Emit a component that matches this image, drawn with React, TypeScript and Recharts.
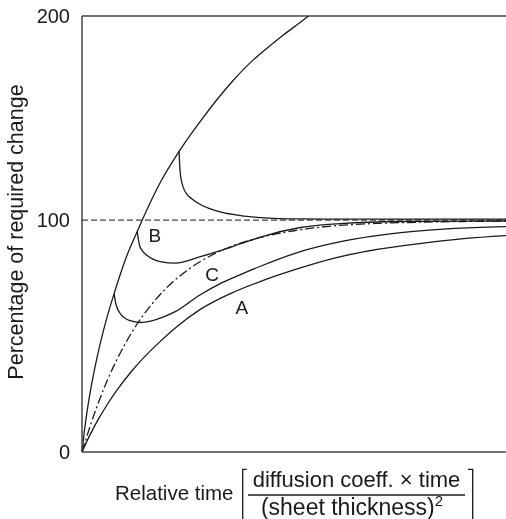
import { LineChart, Line, XAxis, YAxis, ReferenceLine, ReferenceDot } from "recharts";

type Pt = { x: number; y: number };
const pts = (rows: number[][]): Pt[] => rows.map(([x, y]) => ({ x, y }));

// plot box top, in the same units as the curves (100 = required change)
const Y_MAX = 188;
const yTicks = [0, 100, Y_MAX];
const yTickLabels = ["0", "100", "200"];

// steep curve towards double the required change
const overshootPath = pts([
	[0, 0], [0.5, 8.1], [1.2, 17.5], [2.2, 28.5], [3.4, 39.5], [4.8, 50.5],
	[6.2, 60.0], [7.57, 68.3], [10.4, 83.8], [13.0, 95.0], [14.2, 100.0],
	[18.4, 116.0], [22.9, 129.6], [28.6, 144.3], [31.9, 152.1], [35.7, 160.3],
	[39.7, 167.9], [43.7, 174.2], [47.5, 179.8], [51.5, 185.3], [53.4, 188.0],
]);

// branch leaving the steep curve late, settling from above
const lateSwitch = pts([
	[22.9, 129.6], [23.1, 121.8], [23.4, 117.5], [23.9, 114.0], [24.8, 111.0],
	[25.8, 109.3], [27.9, 106.7], [30.3, 104.8], [32.6, 103.5], [37.4, 101.9],
	[42.1, 101.1], [51.5, 100.5], [61, 100.4], [100, 100.4],
]);

// curve B
const curveB = pts([
	[13.0, 95.0], [13.64, 88.7], [14.4, 86.4], [15.37, 84.7], [18.44, 82.1],
	[21.99, 81.4], [27.9, 84.2], [32.6, 86.8], [37.4, 89.8], [42.1, 92.7],
	[51.5, 96.8], [61, 98.5], [75.2, 99.4], [100, 99.6],
]);

// curve C
const curveC = pts([
	[7.57, 68.3], [8.04, 63.5], [9.22, 59.2], [11.35, 56.6], [13.71, 55.85],
	[17.26, 57.0], [21.99, 60.5], [27.9, 67.8], [32.6, 72.6], [37.4, 76.5],
	[42.1, 80.1], [51.5, 86.4], [61, 90.7], [75.2, 94.6], [87, 96.3], [100, 97.2],
]);

// dash-dot reference approach
const dashDot = pts([
	[0, 0], [2, 11.6], [4, 21.9], [6, 31], [8, 39], [10, 46], [13, 55.2],
	[16, 62.7], [20, 70.9], [25, 78.6], [30, 84.3], [35, 88.5], [40, 91.5],
	[50, 95.4], [60, 97.6], [70, 98.6], [80, 99.1], [90, 99.4], [100, 99.6],
]);

// curve A
const curveA = pts([
	[0, 0], [2, 7.8], [4, 14.6], [6, 20.6], [8.5, 27.3], [11.6, 34.6], [14, 39.6],
	[18.4, 47.6], [22, 53.5], [27.9, 61.5], [35, 68.3], [42, 73.5], [50, 78.5],
	[60, 83.8], [70, 87.5], [80, 90], [90, 92], [100, 93.3],
]);

const curveLabels = [
	{ name: "B", x: 17.2, y: 93.3 },
	{ name: "C", x: 30.7, y: 76.5 },
	{ name: "A", x: 37.7, y: 62.6 },
];

const FONT = "'Liberation Sans', Arial, sans-serif";
const INK = "#1a1a1a";
const AXIS = "#444";

const YTitle = () => (
	<text
		x={23}
		y={232}
		transform="rotate(-90, 23, 232)"
		textAnchor="middle"
		fontSize={21.5}
		fontFamily={FONT}
		fill={INK}
	>
		Percentage of required change
	</text>
);

const XTitle = () => (
	<g fontFamily={FONT} fill={INK}>
		<text x={115} y={500} fontSize={20.5}>
			Relative time
		</text>
		<path d="M 246.7 469.3 H 242.7 V 540" stroke={INK} strokeWidth={1.3} fill="none" />
		<text x={356.5} y={487} textAnchor="middle" fontSize={22}>
			diffusion coeff. × time
		</text>
		<line x1={248} x2={465} y1={495} y2={495} stroke={INK} strokeWidth={1.3} />
		<text x={352} y={515} textAnchor="middle" fontSize={23}>
			(sheet thickness)
			<tspan fontSize={15} dy={-9}>
				2
			</tspan>
		</text>
		<path d="M 468 469.3 H 472.7 V 540" stroke={INK} strokeWidth={1.3} fill="none" />
	</g>
);

const curveProps = {
	type: "monotone" as const,
	dataKey: "y",
	stroke: INK,
	strokeWidth: 1.3,
	dot: false,
	activeDot: false,
	isAnimationActive: false,
};

export default function App() {
	// pinned to the viewport corner so the page never grows scrollbars
	return (
		<div style={{ position: "fixed", left: 0, top: 0, width: 506, height: 519 }}>
			<LineChart
				width={506}
				height={519}
				margin={{ top: 16, right: 0, bottom: 37, left: 0 }}
			>
				<XAxis
					type="number"
					dataKey="x"
					domain={[0, 100]}
					tick={false}
					tickLine={false}
					height={30}
					axisLine={{ stroke: AXIS, strokeWidth: 1.5 }}
					label={<XTitle />}
				/>
				<YAxis
					type="number"
					domain={[0, Y_MAX]}
					ticks={yTicks}
					tickFormatter={(v: number) => yTickLabels[yTicks.indexOf(v)] ?? String(v)}
					tickLine={false}
					tickSize={6}
					tickMargin={6}
					width={82}
					tick={{ fontSize: 20, fill: INK, fontFamily: FONT }}
					axisLine={{ stroke: AXIS, strokeWidth: 1.5 }}
					label={<YTitle />}
				/>
				<ReferenceLine y={Y_MAX} stroke={AXIS} strokeWidth={1.5} />
				<ReferenceLine y={100} stroke="#444" strokeWidth={1.2} strokeDasharray="6 3" />

				<Line {...curveProps} data={overshootPath} name="overshoot" />
				<Line {...curveProps} data={lateSwitch} name="late switch" />
				<Line {...curveProps} data={curveB} name="B" />
				<Line {...curveProps} data={curveC} name="C" />
				<Line {...curveProps} data={dashDot} name="dash-dot" strokeDasharray="9 3 2 3" />
				<Line {...curveProps} data={curveA} name="A" />

				{curveLabels.map((l) => (
					<ReferenceDot
						key={l.name}
						x={l.x}
						y={l.y}
						r={0}
						fill="none"
						stroke="none"
						label={{ value: l.name, position: "center", fontSize: 19, fill: INK, fontFamily: FONT }}
					/>
				))}
			</LineChart>
		</div>
	);
}
